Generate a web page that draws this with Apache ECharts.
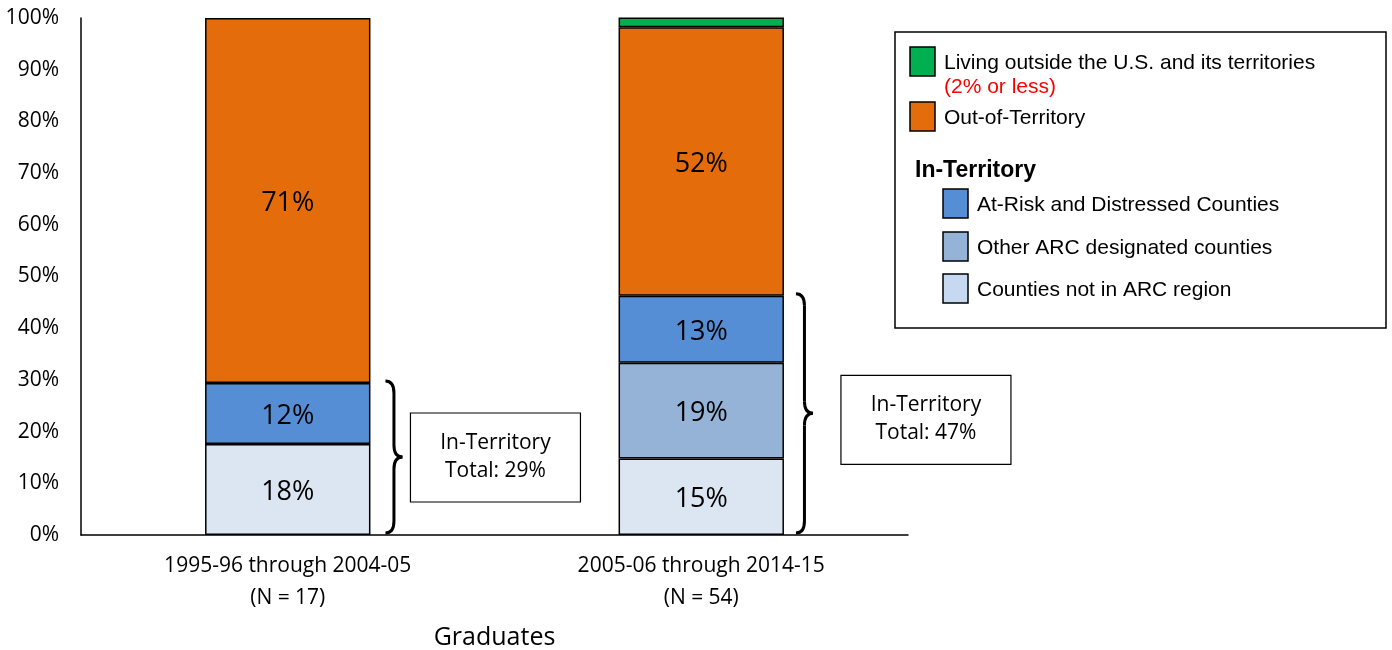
<!DOCTYPE html>
<html>
<head>
<meta charset="utf-8">
<title>Graduates by location</title>
<script src="https://cdn.jsdelivr.net/npm/echarts@6/dist/echarts.min.js"></script>
<style>
    html, body { margin: 0; padding: 0; background: #fff; }
    #chart { width: 1392px; height: 650px; }
</style>
</head>
<body>
<div id="chart"></div>
<script>
    // categories (graduation cohorts)
    const categories = ['1995-96 through 2004-05\n(N = 17)', '2005-06 through 2014-15\n(N = 54)'];

    // shares in percent, bottom to top of each stack
    const notArc = [17.6, 14.8];
    const otherArc = [0, 18.5];
    const atRisk = [11.8, 13.0];
    const outTerritory = [70.6, 51.9];
    const outsideUS = [0, 1.9];

    const totalLabels = ['29%', '47%'];

    const seriesNames = [
        'Counties not in ARC region',
        'Other ARC designated counties',
        'At-Risk and Distressed Counties',
        'Out-of-Territory',
        'Living outside the U.S. and its territories'
    ];
    const seriesData = [notArc, otherArc, atRisk, outTerritory, outsideUS];
    const barColors = ['#DCE6F2', '#95B3D7', '#558ED5', '#E46C0A', '#00B050'];
    const keyColors = ['#C6D9F1', '#95B3D7', '#558ED5', '#E46C0A', '#00B050'];

    const chartFont = '"Open Sans", sans-serif';
    const keyFont = '"Liberation Sans", Arial, sans-serif';

    const chart = echarts.init(document.getElementById('chart'));

    chart.setOption({
        animation: false,
        grid: {
            left: 81, right: 484, top: 18, bottom: 115,
            containLabel: false, outerBoundsMode: 'none'
        },
        xAxis: {
            type: 'category',
            data: categories,
            axisLine: { lineStyle: { color: '#000', width: 1.5 } },
            axisTick: { show: false },
            axisLabel: {
                color: '#000', fontSize: 21, lineHeight: 32, margin: 15,
                fontFamily: chartFont
            },
            name: 'Graduates',
            nameLocation: 'middle',
            nameGap: 90,
            nameTextStyle: { color: '#000', fontSize: 25, fontFamily: chartFont }
        },
        yAxis: {
            type: 'value',
            min: 0,
            max: 100,
            interval: 10,
            axisLine: { show: true, lineStyle: { color: '#000', width: 1.5 } },
            axisTick: { show: false },
            splitLine: { show: false },
            axisLabel: {
                formatter: '{value}%', color: '#000', fontSize: 21, margin: 22,
                fontFamily: chartFont
            }
        },
        series: seriesNames.map(function (name, i) {
            return {
                name: name,
                type: 'bar',
                stack: 'total',
                barWidth: '40%',
                // empty segments get no outline
                data: seriesData[i].map(function (v) {
                    return v > 0 ? v : { value: v, itemStyle: { borderWidth: 0 } };
                }),
                itemStyle: { color: barColors[i], borderColor: '#000', borderWidth: 1.5 },
                label: {
                    show: true,
                    position: 'inside',
                    offset: [0, 3],
                    color: '#000',
                    fontSize: 27,
                    fontFamily: chartFont,
                    formatter: function (p) {
                        return p.value >= 5 ? Math.round(p.value) + '%' : '';
                    }
                }
            };
        })
    });

    const graphics = [];
    const braceStyle = { stroke: '#000', lineWidth: 3, fill: null };

    // curly brace made of quadratic curves and lines; tips at x, point at x + w
    function pushBrace(x, y1, y2, w) {
        const m = (y1 + y2) / 2, h = x + w / 2, r = 12;
        const parts = [
            { type: 'bezierCurve', shape: { x1: x, y1: y1, cpx1: h, cpy1: y1, x2: h, y2: y1 + r } },
            { type: 'line', shape: { x1: h, y1: y1 + r, x2: h, y2: m - r } },
            { type: 'bezierCurve', shape: { x1: h, y1: m - r, cpx1: h, cpy1: m, x2: x + w, y2: m } },
            { type: 'bezierCurve', shape: { x1: x + w, y1: m, cpx1: h, cpy1: m, x2: h, y2: m + r } },
            { type: 'line', shape: { x1: h, y1: m + r, x2: h, y2: y2 - r } },
            { type: 'bezierCurve', shape: { x1: h, y1: y2 - r, cpx1: h, cpy1: y2, x2: x, y2: y2 } }
        ];
        parts.forEach(function (p) {
            p.style = braceStyle;
            graphics.push(p);
        });
    }

    const boxGap = [40, 57];
    const boxShift = [0, 6];
    const braceGap = [15, 12];
    const c0 = chart.convertToPixel({ xAxisIndex: 0, yAxisIndex: 0 }, [0, 0]);
    const c1 = chart.convertToPixel({ xAxisIndex: 0, yAxisIndex: 0 }, [1, 0]);
    const catW = c1[0] - c0[0];

    categories.forEach(function (c, i) {
        const inTotal = notArc[i] + otherArc[i] + atRisk[i];
        const bottom = chart.convertToPixel({ xAxisIndex: 0, yAxisIndex: 0 }, [i, 0]);
        const top = chart.convertToPixel({ xAxisIndex: 0, yAxisIndex: 0 }, [i, inTotal]);
        const barRight = bottom[0] + catW * 0.2;
        const y1 = top[1] - 2, y2 = bottom[1] - 2;
        const mid = (y1 + y2) / 2 + boxShift[i];
        pushBrace(barRight + braceGap[i], y1, y2, 17);
        const bx = barRight + boxGap[i];
        graphics.push({
            type: 'rect',
            shape: { x: bx, y: mid - 44, width: 170, height: 89 },
            style: { fill: '#fff', stroke: '#000', lineWidth: 1.2 }
        });
        graphics.push({
            type: 'text',
            x: bx + 85,
            y: mid,
            style: {
                text: 'In-Territory\nTotal: ' + totalLabels[i],
                align: 'center', verticalAlign: 'middle',
                font: '21px ' + chartFont, lineHeight: 28, fill: '#000'
            }
        });
    });

    // key box
    graphics.push({
        type: 'rect',
        shape: { x: 895, y: 32, width: 491, height: 296 },
        style: { fill: '#fff', stroke: '#000', lineWidth: 1.5 }
    });
    function keyItem(idx, x, y) {
        graphics.push({
            type: 'rect',
            shape: { x: x, y: y, width: 25, height: 29 },
            style: { fill: keyColors[idx], stroke: '#000', lineWidth: 1.5 }
        });
        graphics.push({
            type: 'text',
            x: x + 34,
            y: y + 16,
            style: {
                text: seriesNames[idx], verticalAlign: 'middle',
                font: '21px ' + keyFont, fill: '#000'
            }
        });
    }
    keyItem(4, 910, 47);
    graphics.push({
        type: 'text', x: 944, y: 87,
        style: { text: '(2% or less)', verticalAlign: 'middle', font: '21px ' + keyFont, fill: '#FF0000' }
    });
    keyItem(3, 910, 102);
    graphics.push({
        type: 'text', x: 915, y: 171,
        style: { text: 'In-Territory', verticalAlign: 'middle', font: 'bold 23px ' + keyFont, fill: '#000' }
    });
    keyItem(2, 943, 189);
    keyItem(1, 943, 232);
    keyItem(0, 943, 274);

    chart.setOption({ graphic: graphics });
</script>
</body>
</html>
